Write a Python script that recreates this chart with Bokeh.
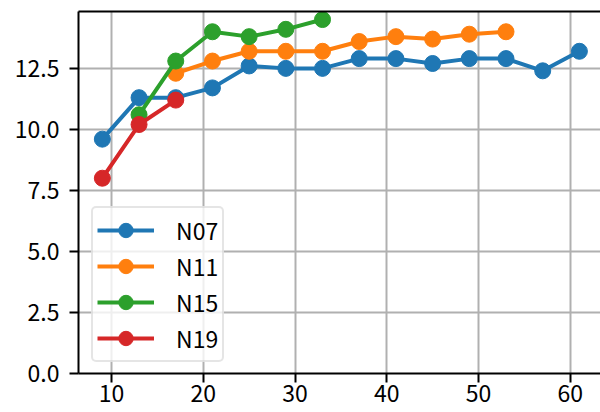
from bokeh.plotting import figure
from bokeh.models import Range1d, LinearAxis, FixedTicker, NumeralTickFormatter, Legend, LegendItem
from bokeh.embed import file_html
from bokeh.resources import INLINE

# data
x_n07 = [9, 13, 17, 21, 25, 29, 33, 37, 41, 45, 49, 53, 57, 61]
y_n07 = [9.6, 11.3, 11.3, 11.7, 12.6, 12.5, 12.5, 12.9, 12.9, 12.7, 12.9, 12.9, 12.4, 13.2]
x_n11 = [17, 21, 25, 29, 33, 37, 41, 45, 49, 53]
y_n11 = [12.3, 12.8, 13.2, 13.2, 13.2, 13.6, 13.8, 13.7, 13.9, 14.0]
x_n15 = [13, 17, 21, 25, 29, 33]
y_n15 = [10.6, 12.8, 14.0, 13.8, 14.1, 14.5]
x_n19 = [9, 13, 17]
y_n19 = [8.0, 10.2, 11.2]
labels = ["N07", "N11", "N15", "N19"]
colors = ["#1f77b4", "#ff7f0e", "#2ca02c", "#d62728"]
x_ticks = [10, 20, 30, 40, 50, 60]
y_ticks = [0, 2.5, 5, 7.5, 10, 12.5]

FONT = "Noto Sans CJK JP"
FS = "23px"

p = figure(width=600, height=412, output_backend="svg", toolbar_location=None,
           x_range=Range1d(6.4, 63.3), y_range=Range1d(0, 14.83),
           min_border_left=78, min_border_right=0, min_border_top=11, min_border_bottom=39)
p.outline_line_color = None
p.background_fill_color = "white"
p.border_fill_color = "white"

for ax, ticks in ((p.xaxis[0], x_ticks), (p.yaxis[0], y_ticks)):
    ax.ticker = FixedTicker(ticks=ticks)
    ax.axis_line_width = 2
    ax.axis_line_color = "black"
    ax.major_tick_line_width = 2
    ax.major_tick_out = 9
    ax.major_tick_in = 0
    ax.minor_tick_line_color = None
    ax.major_label_text_font = FONT
    ax.major_label_text_font_size = FS
    ax.major_label_text_color = "black"
p.xaxis[0].major_label_standoff = 2
p.yaxis[0].major_label_standoff = 10
p.yaxis[0].formatter = NumeralTickFormatter(format="0.0")

top = LinearAxis(ticker=FixedTicker(ticks=[]), axis_line_width=2, axis_line_color="black",
                 major_tick_line_color=None, minor_tick_line_color=None,
                 major_label_text_font_size="0px")
p.add_layout(top, "above")

p.xgrid.ticker = FixedTicker(ticks=x_ticks)
p.ygrid.ticker = FixedTicker(ticks=y_ticks)
p.grid.grid_line_color = "#b0b0b0"
p.grid.grid_line_width = 2

items = []
for xs, ys, lab, c in zip((x_n07, x_n11, x_n15, x_n19), (y_n07, y_n11, y_n15, y_n19), labels, colors):
    l = p.line(xs, ys, line_color=c, line_width=4)
    s = p.scatter(xs, ys, size=16, fill_color=c, line_color=c, marker="circle")
    items.append(LegendItem(label=lab, renderers=[l, s]))

legend = Legend(items=items, location=(13, 11), margin=0, padding=4,
                glyph_width=57, glyph_height=36, label_height=36, spacing=0,
                label_standoff=22, label_text_font=FONT, label_text_font_size=FS,
                label_text_color="black",
                border_line_color="#cccccc", border_line_width=2,
                background_fill_color="white", background_fill_alpha=0.8)
if "border_radius" in Legend.properties():
    legend.border_radius = 5
p.add_layout(legend, "center")

open("out.html", "w").write(file_html(p, INLINE))
